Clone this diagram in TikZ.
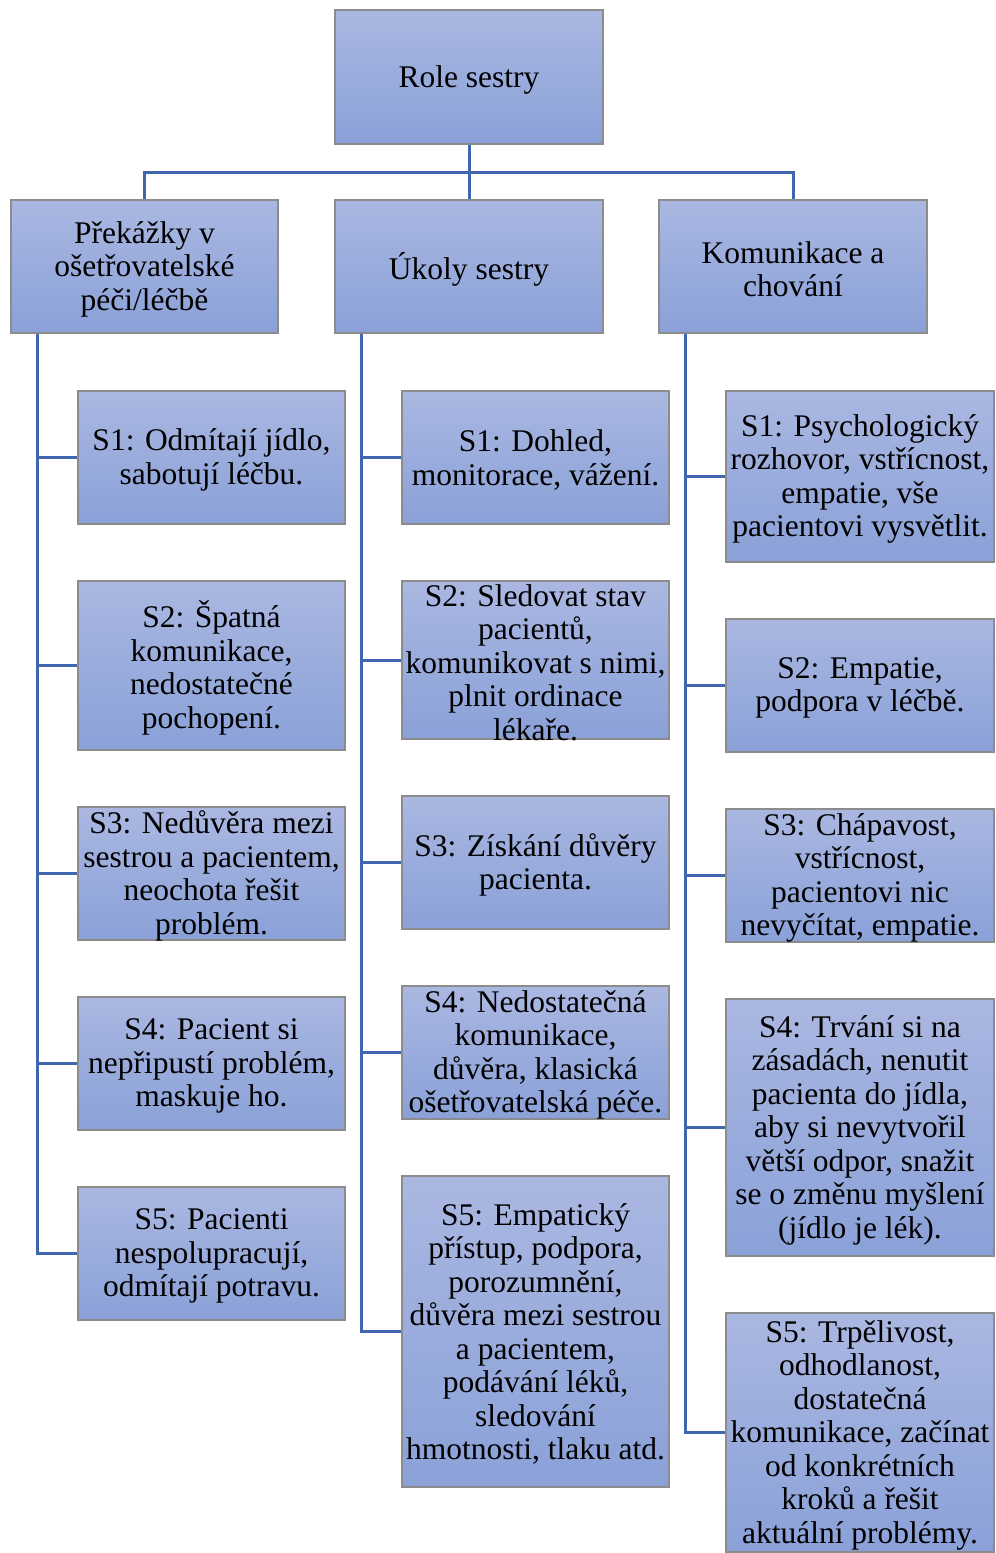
\documentclass[tikz,border=0pt]{standalone}
\usepackage{fontspec}
\setmainfont{Liberation Serif}
\newfontfamily\cardfont{Liberation Serif}
\definecolor{boxtop}{HTML}{AAB7E1}
\definecolor{boxbot}{HTML}{8AA1D8}
\definecolor{boxline}{HTML}{8C8C8C}
\definecolor{link}{HTML}{3F66AE}
\begin{document}
\begin{tikzpicture}[x=1pt,y=-1pt,
  card/.style={draw=boxline,line width=1.5pt,top color=boxtop,bottom color=boxbot,inner sep=0pt},
  cardtext/.style={align=center,inner sep=0pt,text=black,
    font=\cardfont\fontsize{31.5}{33.5}\selectfont},
  link/.style={draw=link,line width=3pt}]
\useasboundingbox (0,0) rectangle (996,1553);
% card: name, x1, y1, x2, y2, text (box first, then its text set slightly low)
\newcommand\card[6]{%
  \node[card,minimum width={#4-#2},minimum height={#5-#3}] (#1) at ({(#2+#4)/2},{(#3+#5)/2}) {};
  \node[cardtext] (#1-text) at ([yshift=-2.5pt]#1.center) {#6};}
% top levels
\card{root}{335}{10}{603}{144}{Role sestry}
\card{pA}{11}{200}{278}{333}{Překážky v\\ošetřovatelské\\péči/léčbě}
\card{pB}{335}{200}{603}{333}{Úkoly sestry}
\card{pC}{659}{200}{927}{333}{Komunikace a\\chování}
% obstacles column
\card{a1}{78}{391}{345}{524}{S1: Odmítají jídlo,\\sabotují léčbu.}
\card{a2}{78}{581}{345}{750}{S2: Špatná\\komunikace,\\nedostatečné\\pochopení.}
\card{a3}{78}{807}{345}{940}{S3: Nedůvěra mezi\\sestrou a pacientem,\\neochota řešit\\problém.}
\card{a4}{78}{997}{345}{1130}{S4: Pacient si\\nepřipustí problém,\\maskuje ho.}
\card{a5}{78}{1187}{345}{1320}{S5: Pacienti\\nespolupracují,\\odmítají potravu.}
% tasks column
\card{b1}{402}{391}{669}{524}{S1: Dohled,\\monitorace, vážení.}
\card{b2}{402}{581}{669}{739}{S2: Sledovat stav\\pacientů,\\komunikovat s nimi,\\plnit ordinace\\lékaře.}
\card{b3}{402}{796}{669}{929}{S3: Získání důvěry\\pacienta.}
\card{b4}{402}{986}{669}{1119}{S4: Nedostatečná\\komunikace,\\důvěra, klasická\\ošetřovatelská péče.}
\card{b5}{402}{1176}{669}{1487}{S5: Empatický\\přístup, podpora,\\porozumnění,\\důvěra mezi sestrou\\a pacientem,\\podávání léků,\\sledování\\hmotnosti, tlaku atd.}
% communication column
\card{c1}{726}{391}{994}{562}{S1: Psychologický\\rozhovor, vstřícnost,\\empatie, vše\\pacientovi vysvětlit.}
\card{c2}{726}{619}{994}{752}{S2: Empatie,\\podpora v léčbě.}
\card{c3}{726}{809}{994}{942}{S3: Chápavost,\\vstřícnost,\\pacientovi nic\\nevyčítat, empatie.}
\card{c4}{726}{999}{994}{1256}{S4: Trvání si na\\zásadách, nenutit\\pacienta do jídla,\\aby si nevytvořil\\větší odpor, snažit\\se o změnu myšlení\\(jídlo je lék).}
\card{c5}{726}{1313}{994}{1552}{S5: Trpělivost,\\odhodlanost,\\dostatečná\\komunikace, začínat\\od konkrétních\\kroků a řešit\\aktuální problémy.}
% root to first level
\coordinate (fork) at ([yshift=-28pt]root.south);
\draw[link] (root.south) -- (fork);
\foreach \p in {pA,pB,pC} \draw[link] (fork) -| (\p.north);
% spines to children
\foreach \p/\q in {pA/a,pB/b,pC/c}
  \foreach \i in {1,...,5}
    \draw[link] ([xshift=27pt]\p.south west) |- (\q\i.west);
\end{tikzpicture}
\end{document}
